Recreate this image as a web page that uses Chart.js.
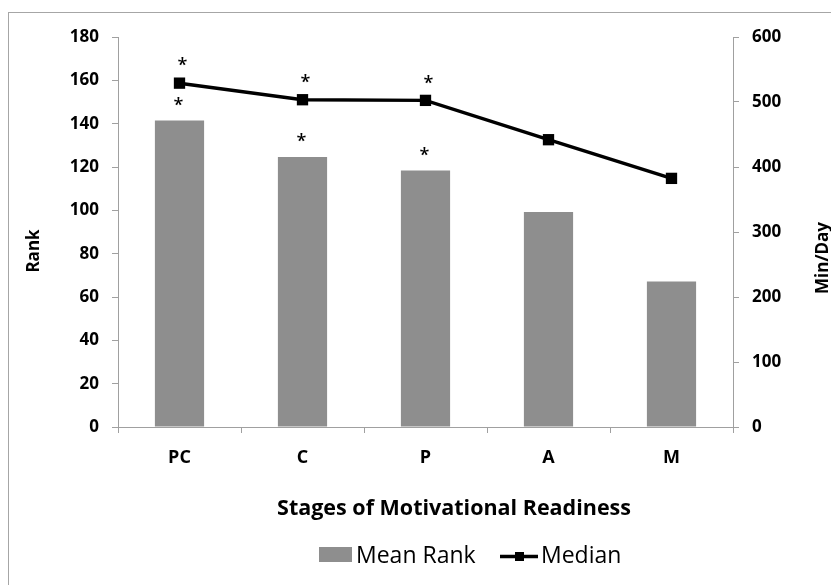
<!DOCTYPE html>
<html><head><meta charset="utf-8">
<script src="https://cdn.jsdelivr.net/npm/chart.js@4.4.0/dist/chart.umd.min.js"></script>
<style>
html,body{margin:0;padding:0;background:#fff;overflow:hidden}
#wrap{position:relative;width:831px;height:585px;overflow:hidden}
#frame{position:absolute;left:8px;top:12px;width:900px;height:700px;border:1px solid #a6a6a6;box-sizing:border-box}
canvas{position:absolute;left:0;top:0}
</style></head><body>
<div id="wrap"><div id="frame"></div><canvas id="c" width="831" height="585"></canvas></div>
<script>
// ---- data ----
const categories = ['PC', 'C', 'P', 'A', 'M'];
const meanRank = [141.5, 124.6, 118.4, 99.2, 67.1];
const median = [529, 503.5, 502.5, 442, 382.5];
const sigMeanRank = [true, true, true, false, false];
const sigMedian = [true, true, true, false, false];
const rankAxis = { min: 0, max: 180, step: 20 };
const minDayAxis = { min: 0, max: 600, step: 100 };
const labels = {
  xTitle: 'Stages of Motivational Readiness',
  yTitle: 'Rank',
  y1Title: 'Min/Day',
  barName: 'Mean Rank',
  lineName: 'Median',
  mark: '*'
};

const FONT = "'Open Sans', sans-serif";
const AXIS = '#a0a0a0';
const BAR = '#8e8e8e';

const overlay = {
  id: 'overlay',
  afterDatasetsDraw(chart) {
    const ctx = chart.ctx;
    ctx.save();
    ctx.fillStyle = '#000';
    ctx.font = '600 18px ' + FONT;
    ctx.textAlign = 'center';
    ctx.textBaseline = 'middle';
    const barMeta = chart.getDatasetMeta(1);
    const lineMeta = chart.getDatasetMeta(0);
    sigMeanRank.forEach((s, i) => {
      if (!s) return;
      const el = barMeta.data[i];
      ctx.fillText(labels.mark, el.x - 1, el.y - 15);
    });
    sigMedian.forEach((s, i) => {
      if (!s) return;
      const el = lineMeta.data[i];
      ctx.fillText(labels.mark, el.x + 3, el.y - 17);
    });
    ctx.restore();
  },
  afterDraw(chart) {
    const ctx = chart.ctx;
    ctx.save();
    ctx.fillStyle = '#000';
    // axis titles
    ctx.font = 'bold 17px ' + FONT;
    ctx.textAlign = 'center';
    ctx.textBaseline = 'middle';
    ctx.save();
    ctx.translate(34, 251);
    ctx.rotate(-Math.PI / 2);
    ctx.fillText(labels.yTitle, 0, 0);
    ctx.restore();
    ctx.save();
    ctx.translate(823, 258);
    ctx.rotate(-Math.PI / 2);
    ctx.fillText(labels.y1Title, 0, 0);
    ctx.restore();
    // x title
    ctx.font = 'bold 21.5px ' + FONT;
    ctx.fillText(labels.xTitle, 454, 509);
    // legend
    ctx.fillStyle = BAR;
    ctx.fillRect(319, 547, 33, 15);
    ctx.fillStyle = '#000';
    ctx.font = '23px ' + FONT;
    ctx.textAlign = 'left';
    ctx.fillText(labels.barName, 356, 556);
    ctx.strokeStyle = '#000';
    ctx.lineWidth = 3.5;
    ctx.beginPath();
    ctx.moveTo(500, 556.5);
    ctx.lineTo(538, 556.5);
    ctx.stroke();
    ctx.fillRect(515, 552, 9, 9);
    ctx.fillText(labels.lineName, 541, 556);
    ctx.restore();
  }
};

const tickFont = { family: FONT, size: 17, weight: 'bold' };

new Chart(document.getElementById('c'), {
  data: {
    labels: categories,
    datasets: [
      {
        type: 'line',
        label: labels.lineName,
        data: median,
        yAxisID: 'y1',
        borderColor: '#000',
        borderWidth: 3.5,
        pointStyle: 'rect',
        pointRadius: 8,
        pointHoverRadius: 8,
        pointBackgroundColor: '#000',
        pointBorderWidth: 0,
        tension: 0,
        order: 0
      },
      {
        type: 'bar',
        label: labels.barName,
        data: meanRank,
        yAxisID: 'y',
        backgroundColor: BAR,
        barPercentage: 0.4,
        categoryPercentage: 1,
        order: 1
      }
    ]
  },
  options: {
    responsive: false,
    devicePixelRatio: 1,
    animation: false,
    events: [],
    layout: { padding: { top: 37, left: 0, right: 0, bottom: 0 } },
    plugins: { legend: { display: false }, tooltip: { enabled: false }, title: { display: false } },
    scales: {
      x: {
        offset: true,
        grid: { display: true, offset: true, drawOnChartArea: false, drawTicks: true, tickLength: 6, color: AXIS },
        border: { color: AXIS, width: 1 },
        ticks: { font: { family: FONT, size: 18, weight: 'bold' }, color: '#000', padding: 14, maxRotation: 0 },
        afterFit: s => { s.height = 158; }
      },
      y: {
        position: 'left',
        min: rankAxis.min, max: rankAxis.max,
        ticks: { stepSize: rankAxis.step, font: tickFont, color: '#000', padding: 13 },
        grid: { drawOnChartArea: false, drawTicks: true, tickLength: 6, color: AXIS },
        border: { color: AXIS, width: 1 },
        afterFit: s => { s.width = 118; }
      },
      y1: {
        position: 'right',
        min: minDayAxis.min, max: minDayAxis.max,
        ticks: { stepSize: minDayAxis.step, font: tickFont, color: '#000', padding: 13 },
        grid: { drawOnChartArea: false, drawTicks: true, tickLength: 6, color: AXIS },
        border: { color: AXIS, width: 1 },
        afterFit: s => { s.width = 98; }
      }
    }
  },
  plugins: [overlay]
});
</script>
</body></html>
